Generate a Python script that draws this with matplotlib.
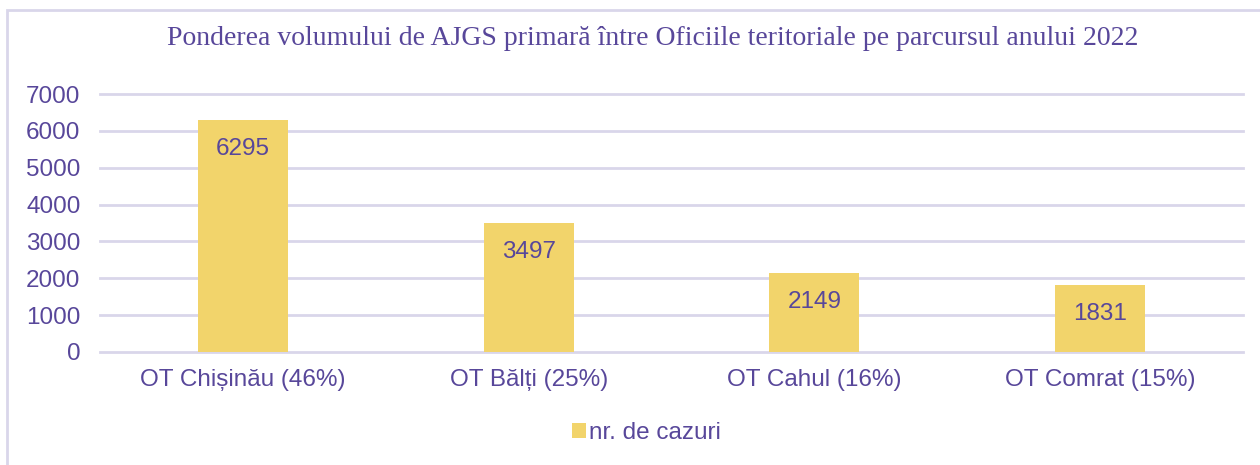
import numpy as np
import matplotlib.pyplot as plt
from matplotlib.patches import Rectangle

categories = ['OT Chișinău (46%)', 'OT Bălți (25%)', 'OT Cahul (16%)', 'OT Comrat (15%)']
cases = [6295, 3497, 2149, 1831]
yticks = [0, 1000, 2000, 3000, 4000, 5000, 6000, 7000]

text_col = '#58479A'
bar_col = '#F2D46B'
grid_col = '#D9D6EA'

plt.rcParams['font.family'] = ['Liberation Sans', 'DejaVu Sans']

fig = plt.figure(figsize=(12.6, 4.65), dpi=100)
ax = fig.add_axes([100 / 1260, 1 - 352 / 465, 1143 / 1260, (352 - 94) / 465])

x = np.arange(len(categories))
bars = ax.bar(x, cases, width=0.315, color=bar_col, label='nr. de cazuri', zorder=3)
for b, v in zip(bars, cases):
    ax.annotate(str(v), (b.get_x() + b.get_width() / 2, v), xytext=(0, -21),
                textcoords='offset points', ha='center', va='center',
                fontsize=17.5, color=text_col, zorder=4)

ax.set_xlim(-0.5, len(categories) - 0.5)
ax.set_ylim(0, 7000)
ax.set_yticks(yticks)
ax.set_xticks(x)
ax.set_xticklabels(categories)
ax.tick_params(axis='both', length=0, labelsize=17.5, labelcolor=text_col)
ax.tick_params(axis='y', pad=14)
ax.tick_params(axis='x', pad=12)
ax.grid(axis='y', color=grid_col, linewidth=2, zorder=0)
for gl in ax.get_ygridlines():
    gl.set_clip_on(False)
for s in ax.spines.values():
    s.set_visible(False)

fig.text(653 / 1260, 1 - 38 / 465, 'Ponderea volumului de AJGS primară între Oficiile teritoriale pe parcursul anului 2022',
         ha='center', va='center', fontsize=20, color=text_col, family=['Liberation Serif', 'DejaVu Serif'])

leg = fig.legend(loc='center', bbox_to_anchor=(646 / 1260, 1 - 433 / 465), frameon=False,
                 fontsize=17.5, handlelength=0.6, handleheight=0.6, handletextpad=0.1, labelcolor=text_col)

# outer chart border
fig.patches.append(Rectangle((7 / 1260, -0.1), 1.2, 1 - 10 / 465 + 0.1, transform=fig.transFigure,
                             fill=False, edgecolor=grid_col, linewidth=2))

fig.savefig('out.png', dpi=100)
